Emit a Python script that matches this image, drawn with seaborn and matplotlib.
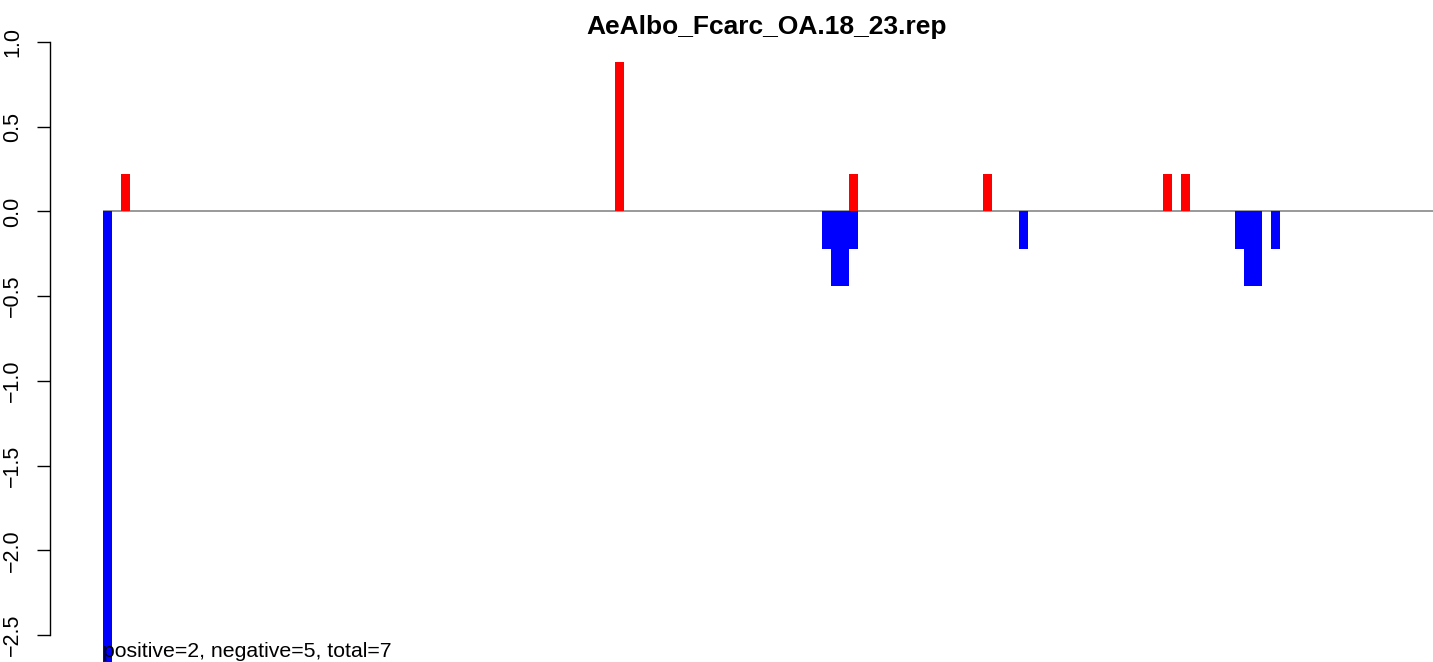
import pandas as pd
import matplotlib.pyplot as plt
import seaborn as sns
import numpy as np

# Bar data (bar index along the track, value)
n_bars = 149
pos_idx = [2, 57, 83, 98, 118, 120]
pos_val = [0.22, 0.88, 0.22, 0.22, 0.22, 0.22]
neg_idx = [0, 80, 81, 82, 83, 102, 126, 127, 128, 130]
neg_val = [-2.68, -0.22, -0.44, -0.44, -0.22, -0.22, -0.22, -0.44, -0.44, -0.22]
y_ticks = [-2.5, -2.0, -1.5, -1.0, -0.5, 0.0, 0.5, 1.0]
title = 'AeAlbo_Fcarc_OA.18_23.rep'
note = 'positive=2, negative=5, total=7'

pos = np.zeros(n_bars)
pos[pos_idx] = pos_val
neg = np.zeros(n_bars)
neg[neg_idx] = neg_val
df = pd.DataFrame({'idx': np.arange(n_bars), 'pos': pos, 'neg': neg})

sns.set_style("white")
plt.rcParams['font.family'] = ['Liberation Sans', 'DejaVu Sans']
plt.rcParams['text.color'] = 'black'
plt.rcParams['ytick.color'] = 'black'

W, H = 1433, 662
fig = plt.figure(figsize=(W / 100, H / 100), dpi=100)
ax = fig.add_axes([50 / W, 0, (W - 50) / W, (H - 30) / H])

sns.barplot(data=df, x='idx', y='pos', color='#FF0000', width=1, linewidth=0,
            saturation=1, errorbar=None, ax=ax)
sns.barplot(data=df, x='idx', y='neg', color='#0000FF', width=1, linewidth=0,
            saturation=1, errorbar=None, ax=ax)
ax.hlines(0, -0.5, n_bars - 0.5, color='#999999', lw=1.4, zorder=0.5)

ax.set_xlim(-6.44, 147.57)
ax.set_ylim(-2.66, 1.071)
ax.set_xticks([])
ax.set_xlabel('')
ax.set_ylabel('')
ax.set_yticks(y_ticks)
ax.set_yticklabels([f'{v:.1f}'.replace('-', '\u2212') for v in y_ticks],
                   rotation=90, va='center', fontsize=15.5, color='black')
ax.tick_params(axis='y', length=9.5, width=1, color='black', pad=10, left=True)
for s in ['top', 'right', 'bottom']:
    ax.spines[s].set_visible(False)
ax.spines['left'].set_bounds(-2.5, 1.0)
ax.spines['left'].set_color('black')
ax.spines['left'].set_linewidth(1)

fig.text(767 / W, 1 - 27 / H, title, ha='center', va='center',
         fontsize=19, fontweight='bold', color='black')
fig.text(103 / W, 1 - 657 / H, note, ha='left', va='baseline', fontsize=15.3,
         color='black')

fig.savefig('out.png', dpi=100)
